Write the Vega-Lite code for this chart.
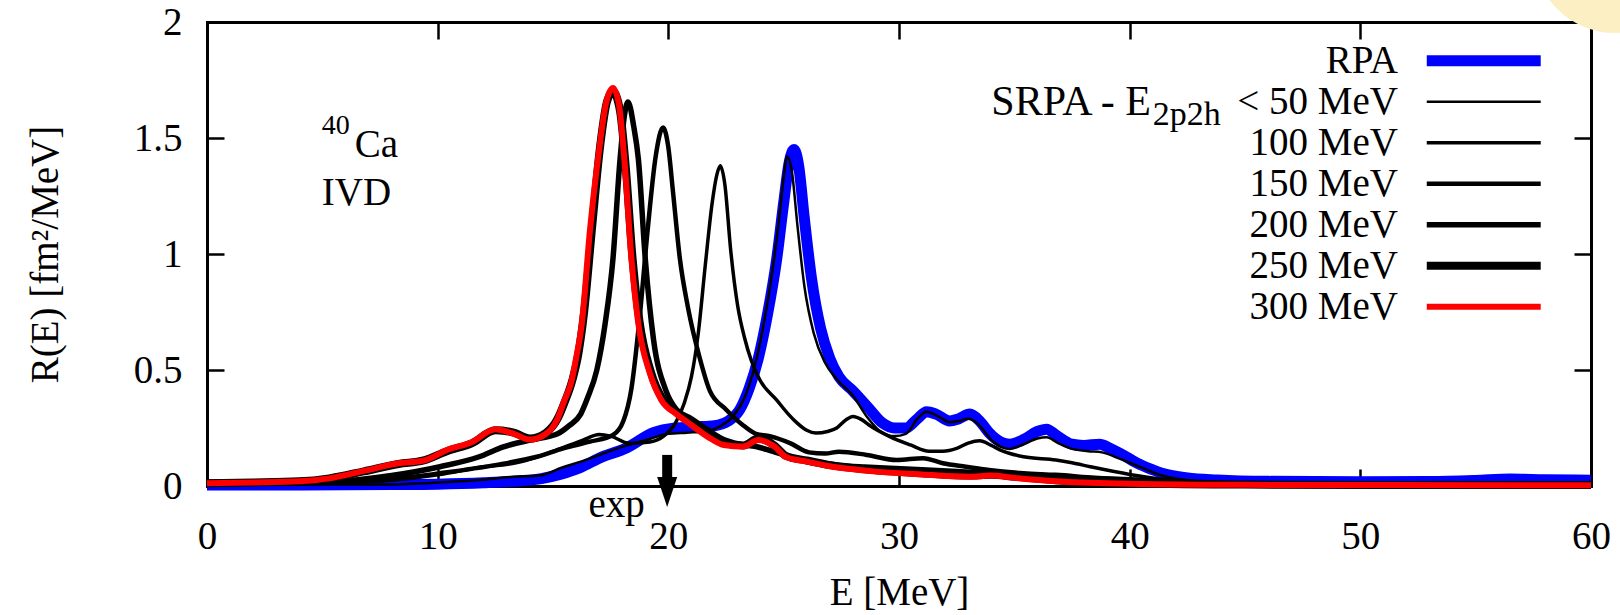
{
  "$schema": "https://vega.github.io/schema/vega-lite/v6.json",
  "width": 1384,
  "height": 464,
  "autosize": {"type": "none"},
  "padding": {"left": 207, "top": 22, "right": 29, "bottom": 129},
  "background": "white",
  "config": {
    "view": {"stroke": null},
    "font": "Liberation Serif",
    "text": {"font": "Liberation Serif", "color": "black"},
    "axis": {
      "domainColor": "black", "domainWidth": 3, "domainCap": "square",
      "tickColor": "black", "tickWidth": 2.5, "tickSize": -17,
      "labelFont": "Liberation Serif", "labelFontSize": 39, "labelColor": "black",
      "titleFont": "Liberation Serif", "titleFontSize": 39, "titleFontWeight": "normal", "titleColor": "black",
      "grid": false, "zindex": 1, "labelFlush": false, "labelOverlap": false, "labelBound": false
    }
  },
  "datasets": {
    "curves": [
      {"s":"RPA","E":0,"R":0.004},{"s":"RPA","E":3,"R":0.004},{"s":"RPA","E":6,"R":0.005},{"s":"RPA","E":8,"R":0.006},{"s":"RPA","E":10,"R":0.008},{"s":"RPA","E":12,"R":0.014},{"s":"RPA","E":13.5,"R":0.022},{"s":"RPA","E":14.5,"R":0.032},{"s":"RPA","E":15.3,"R":0.05},{"s":"RPA","E":16.2,"R":0.08},{"s":"RPA","E":17,"R":0.12},{"s":"RPA","E":18.2,"R":0.165},{"s":"RPA","E":19.35,"R":0.23},{"s":"RPA","E":20.3,"R":0.25},{"s":"RPA","E":21.2,"R":0.255},{"s":"RPA","E":22,"R":0.26},{"s":"RPA","E":22.6,"R":0.28},{"s":"RPA","E":23.1,"R":0.33},{"s":"RPA","E":23.5,"R":0.42},{"s":"RPA","E":23.9,"R":0.55},{"s":"RPA","E":24.3,"R":0.74},{"s":"RPA","E":24.7,"R":0.98},{"s":"RPA","E":25,"R":1.22},{"s":"RPA","E":25.25,"R":1.4},{"s":"RPA","E":25.45,"R":1.45},{"s":"RPA","E":25.65,"R":1.38},{"s":"RPA","E":25.9,"R":1.15},{"s":"RPA","E":26.2,"R":0.9},{"s":"RPA","E":26.6,"R":0.68},{"s":"RPA","E":27,"R":0.55},{"s":"RPA","E":27.4,"R":0.47},{"s":"RPA","E":28,"R":0.41},{"s":"RPA","E":28.65,"R":0.34},{"s":"RPA","E":29.3,"R":0.27},{"s":"RPA","E":29.8,"R":0.25},{"s":"RPA","E":30.3,"R":0.25},{"s":"RPA","E":30.8,"R":0.29},{"s":"RPA","E":31.2,"R":0.32},{"s":"RPA","E":31.6,"R":0.31},{"s":"RPA","E":32.2,"R":0.28},{"s":"RPA","E":32.6,"R":0.29},{"s":"RPA","E":33.07,"R":0.31},{"s":"RPA","E":33.5,"R":0.28},{"s":"RPA","E":33.9,"R":0.23},{"s":"RPA","E":34.4,"R":0.19},{"s":"RPA","E":34.8,"R":0.18},{"s":"RPA","E":35.4,"R":0.2},{"s":"RPA","E":36,"R":0.235},{"s":"RPA","E":36.4,"R":0.245},{"s":"RPA","E":36.8,"R":0.22},{"s":"RPA","E":37.5,"R":0.18},{"s":"RPA","E":38,"R":0.175},{"s":"RPA","E":38.7,"R":0.18},{"s":"RPA","E":39.1,"R":0.165},{"s":"RPA","E":39.6,"R":0.14},{"s":"RPA","E":40.3,"R":0.1},{"s":"RPA","E":41,"R":0.07},{"s":"RPA","E":41.4,"R":0.055},{"s":"RPA","E":42.5,"R":0.035},{"s":"RPA","E":43.8,"R":0.026},{"s":"RPA","E":46,"R":0.02},{"s":"RPA","E":50,"R":0.018},{"s":"RPA","E":53,"R":0.019},{"s":"RPA","E":55,"R":0.024},{"s":"RPA","E":56.5,"R":0.03},{"s":"RPA","E":58,"R":0.027},{"s":"RPA","E":60,"R":0.025},
      {"s":"E50","E":0,"R":0.006},{"s":"E50","E":4,"R":0.006},{"s":"E50","E":7,"R":0.006},{"s":"E50","E":8.9,"R":0.01},{"s":"E50","E":10.5,"R":0.018},{"s":"E50","E":11.8,"R":0.026},{"s":"E50","E":13.3,"R":0.04},{"s":"E50","E":14.4,"R":0.045},{"s":"E50","E":15.4,"R":0.08},{"s":"E50","E":16.2,"R":0.105},{"s":"E50","E":16.9,"R":0.13},{"s":"E50","E":18.2,"R":0.175},{"s":"E50","E":19.1,"R":0.2},{"s":"E50","E":20,"R":0.225},{"s":"E50","E":20.8,"R":0.23},{"s":"E50","E":21.6,"R":0.235},{"s":"E50","E":22.3,"R":0.26},{"s":"E50","E":22.8,"R":0.3},{"s":"E50","E":23.3,"R":0.38},{"s":"E50","E":23.7,"R":0.5},{"s":"E50","E":24.1,"R":0.68},{"s":"E50","E":24.5,"R":0.92},{"s":"E50","E":24.8,"R":1.15},{"s":"E50","E":25,"R":1.33},{"s":"E50","E":25.15,"R":1.42},{"s":"E50","E":25.35,"R":1.36},{"s":"E50","E":25.6,"R":1.12},{"s":"E50","E":25.9,"R":0.86},{"s":"E50","E":26.3,"R":0.66},{"s":"E50","E":26.8,"R":0.53},{"s":"E50","E":27.3,"R":0.46},{"s":"E50","E":28,"R":0.39},{"s":"E50","E":28.6,"R":0.3},{"s":"E50","E":29.2,"R":0.235},{"s":"E50","E":29.8,"R":0.215},{"s":"E50","E":30.3,"R":0.225},{"s":"E50","E":30.8,"R":0.29},{"s":"E50","E":31.2,"R":0.32},{"s":"E50","E":31.7,"R":0.3},{"s":"E50","E":32.2,"R":0.275},{"s":"E50","E":32.6,"R":0.28},{"s":"E50","E":33,"R":0.29},{"s":"E50","E":33.5,"R":0.26},{"s":"E50","E":33.9,"R":0.21},{"s":"E50","E":34.4,"R":0.17},{"s":"E50","E":34.8,"R":0.16},{"s":"E50","E":35.4,"R":0.18},{"s":"E50","E":36,"R":0.205},{"s":"E50","E":36.4,"R":0.21},{"s":"E50","E":36.9,"R":0.185},{"s":"E50","E":37.5,"R":0.16},{"s":"E50","E":38.2,"R":0.15},{"s":"E50","E":38.8,"R":0.145},{"s":"E50","E":39.5,"R":0.12},{"s":"E50","E":40.5,"R":0.08},{"s":"E50","E":41.4,"R":0.045},{"s":"E50","E":43,"R":0.02},{"s":"E50","E":45,"R":0.01},{"s":"E50","E":50,"R":0.005},{"s":"E50","E":60,"R":0.004},
      {"s":"E100","E":0,"R":0.008},{"s":"E100","E":4,"R":0.01},{"s":"E100","E":6,"R":0.014},{"s":"E100","E":8,"R":0.025},{"s":"E100","E":10.1,"R":0.05},{"s":"E100","E":11.8,"R":0.08},{"s":"E100","E":13.4,"R":0.1},{"s":"E100","E":14.3,"R":0.125},{"s":"E100","E":15.15,"R":0.155},{"s":"E100","E":16.3,"R":0.198},{"s":"E100","E":17,"R":0.222},{"s":"E100","E":17.5,"R":0.215},{"s":"E100","E":18.3,"R":0.184},{"s":"E100","E":19.2,"R":0.19},{"s":"E100","E":19.8,"R":0.215},{"s":"E100","E":20.3,"R":0.27},{"s":"E100","E":20.7,"R":0.36},{"s":"E100","E":21,"R":0.47},{"s":"E100","E":21.3,"R":0.66},{"s":"E100","E":21.6,"R":0.95},{"s":"E100","E":21.9,"R":1.22},{"s":"E100","E":22.1,"R":1.34},{"s":"E100","E":22.25,"R":1.38},{"s":"E100","E":22.45,"R":1.3},{"s":"E100","E":22.7,"R":1.02},{"s":"E100","E":23,"R":0.78},{"s":"E100","E":23.3,"R":0.64},{"s":"E100","E":23.6,"R":0.54},{"s":"E100","E":23.97,"R":0.457},{"s":"E100","E":24.7,"R":0.37},{"s":"E100","E":25.2,"R":0.31},{"s":"E100","E":25.6,"R":0.27},{"s":"E100","E":26,"R":0.24},{"s":"E100","E":26.4,"R":0.228},{"s":"E100","E":26.9,"R":0.235},{"s":"E100","E":27.3,"R":0.25},{"s":"E100","E":27.7,"R":0.285},{"s":"E100","E":28,"R":0.3},{"s":"E100","E":28.4,"R":0.285},{"s":"E100","E":28.7,"R":0.263},{"s":"E100","E":29.6,"R":0.213},{"s":"E100","E":30.5,"R":0.177},{"s":"E100","E":31.3,"R":0.15},{"s":"E100","E":31.9,"R":0.15},{"s":"E100","E":32.5,"R":0.162},{"s":"E100","E":33,"R":0.185},{"s":"E100","E":33.5,"R":0.195},{"s":"E100","E":34,"R":0.175},{"s":"E100","E":34.4,"R":0.155},{"s":"E100","E":35.4,"R":0.126},{"s":"E100","E":36.8,"R":0.112},{"s":"E100","E":37.5,"R":0.1},{"s":"E100","E":38.3,"R":0.083},{"s":"E100","E":40,"R":0.05},{"s":"E100","E":41.7,"R":0.026},{"s":"E100","E":44,"R":0.01},{"s":"E100","E":50,"R":0.004},{"s":"E100","E":60,"R":0.003},
      {"s":"E150","E":0,"R":0.008},{"s":"E150","E":4,"R":0.012},{"s":"E150","E":6,"R":0.018},{"s":"E150","E":8,"R":0.03},{"s":"E150","E":10.1,"R":0.055},{"s":"E150","E":12.56,"R":0.091},{"s":"E150","E":14.3,"R":0.126},{"s":"E150","E":15.45,"R":0.162},{"s":"E150","E":16.6,"R":0.191},{"s":"E150","E":17.6,"R":0.22},{"s":"E150","E":18.05,"R":0.28},{"s":"E150","E":18.4,"R":0.42},{"s":"E150","E":18.75,"R":0.72},{"s":"E150","E":19.1,"R":1.1},{"s":"E150","E":19.45,"R":1.42},{"s":"E150","E":19.77,"R":1.545},{"s":"E150","E":20,"R":1.46},{"s":"E150","E":20.2,"R":1.27},{"s":"E150","E":20.5,"R":0.98},{"s":"E150","E":20.85,"R":0.77},{"s":"E150","E":21.35,"R":0.556},{"s":"E150","E":21.8,"R":0.41},{"s":"E150","E":22.5,"R":0.33},{"s":"E150","E":23.2,"R":0.265},{"s":"E150","E":23.8,"R":0.225},{"s":"E150","E":24.4,"R":0.215},{"s":"E150","E":25.3,"R":0.184},{"s":"E150","E":26.1,"R":0.145},{"s":"E150","E":26.8,"R":0.14},{"s":"E150","E":27.4,"R":0.148},{"s":"E150","E":28.6,"R":0.134},{"s":"E150","E":29.9,"R":0.112},{"s":"E150","E":31.05,"R":0.12},{"s":"E150","E":31.9,"R":0.098},{"s":"E150","E":32.9,"R":0.083},{"s":"E150","E":33.9,"R":0.069},{"s":"E150","E":35.4,"R":0.055},{"s":"E150","E":36.8,"R":0.048},{"s":"E150","E":38.5,"R":0.035},{"s":"E150","E":41.7,"R":0.02},{"s":"E150","E":45,"R":0.008},{"s":"E150","E":50,"R":0.004},{"s":"E150","E":60,"R":0.003},
      {"s":"E200","E":0,"R":0.01},{"s":"E200","E":4,"R":0.015},{"s":"E200","E":6,"R":0.022},{"s":"E200","E":8,"R":0.045},{"s":"E200","E":10.1,"R":0.083},{"s":"E200","E":11.8,"R":0.126},{"s":"E200","E":12.85,"R":0.169},{"s":"E200","E":14,"R":0.198},{"s":"E200","E":15.2,"R":0.225},{"s":"E200","E":15.7,"R":0.26},{"s":"E200","E":16.2,"R":0.31},{"s":"E200","E":16.5,"R":0.38},{"s":"E200","E":16.9,"R":0.5},{"s":"E200","E":17.26,"R":0.7},{"s":"E200","E":17.6,"R":0.98},{"s":"E200","E":17.9,"R":1.4},{"s":"E200","E":18.1,"R":1.6},{"s":"E200","E":18.25,"R":1.655},{"s":"E200","E":18.5,"R":1.55},{"s":"E200","E":18.7,"R":1.41},{"s":"E200","E":19,"R":0.98},{"s":"E200","E":19.36,"R":0.63},{"s":"E200","E":19.9,"R":0.41},{"s":"E200","E":20.35,"R":0.33},{"s":"E200","E":21,"R":0.29},{"s":"E200","E":21.7,"R":0.243},{"s":"E200","E":22.4,"R":0.2},{"s":"E200","E":23.1,"R":0.18},{"s":"E200","E":23.8,"R":0.17},{"s":"E200","E":24.5,"R":0.15},{"s":"E200","E":25.3,"R":0.126},{"s":"E200","E":26.3,"R":0.105},{"s":"E200","E":27.4,"R":0.09},{"s":"E200","E":28.5,"R":0.082},{"s":"E200","E":29.6,"R":0.076},{"s":"E200","E":31,"R":0.07},{"s":"E200","E":32.5,"R":0.062},{"s":"E200","E":34,"R":0.055},{"s":"E200","E":35.4,"R":0.048},{"s":"E200","E":36.8,"R":0.04},{"s":"E200","E":38.3,"R":0.033},{"s":"E200","E":41.7,"R":0.02},{"s":"E200","E":45,"R":0.01},{"s":"E200","E":50,"R":0.005},{"s":"E200","E":60,"R":0.004},
      {"s":"E250","E":0,"R":0.012},{"s":"E250","E":2,"R":0.015},{"s":"E250","E":4,"R":0.02},{"s":"E250","E":5.3,"R":0.033},{"s":"E250","E":6.8,"R":0.063},{"s":"E250","E":8.3,"R":0.095},{"s":"E250","E":9.4,"R":0.11},{"s":"E250","E":10.4,"R":0.15},{"s":"E250","E":11.5,"R":0.185},{"s":"E250","E":12.5,"R":0.24},{"s":"E250","E":13.3,"R":0.23},{"s":"E250","E":14,"R":0.205},{"s":"E250","E":14.7,"R":0.23},{"s":"E250","E":15.2,"R":0.29},{"s":"E250","E":15.5,"R":0.36},{"s":"E250","E":15.85,"R":0.46},{"s":"E250","E":16.1,"R":0.57},{"s":"E250","E":16.35,"R":0.75},{"s":"E250","E":16.7,"R":1.12},{"s":"E250","E":17.05,"R":1.47},{"s":"E250","E":17.35,"R":1.66},{"s":"E250","E":17.6,"R":1.7},{"s":"E250","E":17.9,"R":1.62},{"s":"E250","E":18.15,"R":1.38},{"s":"E250","E":18.45,"R":0.98},{"s":"E250","E":18.75,"R":0.71},{"s":"E250","E":19.25,"R":0.49},{"s":"E250","E":19.75,"R":0.375},{"s":"E250","E":20.4,"R":0.315},{"s":"E250","E":20.9,"R":0.28},{"s":"E250","E":21.7,"R":0.22},{"s":"E250","E":22.4,"R":0.185},{"s":"E250","E":23.25,"R":0.175},{"s":"E250","E":23.9,"R":0.205},{"s":"E250","E":24.6,"R":0.175},{"s":"E250","E":25.1,"R":0.13},{"s":"E250","E":26,"R":0.11},{"s":"E250","E":27,"R":0.09},{"s":"E250","E":28.2,"R":0.075},{"s":"E250","E":29,"R":0.068},{"s":"E250","E":31,"R":0.055},{"s":"E250","E":33,"R":0.045},{"s":"E250","E":34,"R":0.048},{"s":"E250","E":35,"R":0.04},{"s":"E250","E":36.8,"R":0.025},{"s":"E250","E":40,"R":0.012},{"s":"E250","E":45,"R":0.006},{"s":"E250","E":60,"R":0.004},
      {"s":"E300","E":0,"R":0.012},{"s":"E300","E":2,"R":0.015},{"s":"E300","E":4,"R":0.02},{"s":"E300","E":5.3,"R":0.033},{"s":"E300","E":6.8,"R":0.065},{"s":"E300","E":8.3,"R":0.098},{"s":"E300","E":9.4,"R":0.11},{"s":"E300","E":10.4,"R":0.155},{"s":"E300","E":11.5,"R":0.19},{"s":"E300","E":12.5,"R":0.245},{"s":"E300","E":13.3,"R":0.225},{"s":"E300","E":14,"R":0.2},{"s":"E300","E":14.7,"R":0.225},{"s":"E300","E":15.2,"R":0.29},{"s":"E300","E":15.5,"R":0.37},{"s":"E300","E":15.8,"R":0.45},{"s":"E300","E":16,"R":0.55},{"s":"E300","E":16.25,"R":0.7},{"s":"E300","E":16.6,"R":1.1},{"s":"E300","E":17,"R":1.45},{"s":"E300","E":17.3,"R":1.65},{"s":"E300","E":17.6,"R":1.715},{"s":"E300","E":17.85,"R":1.65},{"s":"E300","E":18.1,"R":1.4},{"s":"E300","E":18.4,"R":0.98},{"s":"E300","E":18.7,"R":0.7},{"s":"E300","E":19.2,"R":0.485},{"s":"E300","E":19.7,"R":0.37},{"s":"E300","E":20.35,"R":0.31},{"s":"E300","E":20.9,"R":0.27},{"s":"E300","E":21.7,"R":0.213},{"s":"E300","E":22.4,"R":0.177},{"s":"E300","E":23.25,"R":0.17},{"s":"E300","E":23.9,"R":0.198},{"s":"E300","E":24.6,"R":0.17},{"s":"E300","E":25.1,"R":0.125},{"s":"E300","E":26,"R":0.105},{"s":"E300","E":27,"R":0.085},{"s":"E300","E":28.2,"R":0.07},{"s":"E300","E":29,"R":0.062},{"s":"E300","E":31,"R":0.05},{"s":"E300","E":33,"R":0.04},{"s":"E300","E":34,"R":0.045},{"s":"E300","E":35,"R":0.035},{"s":"E300","E":36.8,"R":0.02},{"s":"E300","E":40,"R":0.01},{"s":"E300","E":45,"R":0.005},{"s":"E300","E":60,"R":0.003}
    ],
    "legend": [
      {"s":"RPA","label":"RPA"},
      {"s":"E50","label":"< 50 MeV"},
      {"s":"E100","label":"100 MeV"},
      {"s":"E150","label":"150 MeV"},
      {"s":"E200","label":"200 MeV"},
      {"s":"E250","label":"250 MeV"},
      {"s":"E300","label":"300 MeV"}
    ]
  },
  "layer": [
    {
      "layer": [
        {
          "data": {"values": [{}]},
          "mark": {"type": "point", "shape": "circle", "size": 26244, "filled": true, "color": "#fcefc4", "opacity": 1},
          "encoding": {
            "x": {"datum": 61.03, "type": "quantitative", "axis": null},
            "y": {"datum": 2.302, "type": "quantitative", "axis": null}
          }
        },
        {
          "data": {"name": "curves"},
          "mark": {"type": "line", "interpolate": "monotone", "strokeJoin": "round"},
          "encoding": {
            "x": {"field": "E", "type": "quantitative", "scale": {"domain": [0, 60], "nice": false},
              "axis": {"orient": "bottom", "values": [0, 10, 20, 30, 40, 50, 60], "title": "E [MeV]", "titlePadding": 17, "labelPadding": 48}},
            "y": {"field": "R", "type": "quantitative", "scale": {"domain": [0, 2], "nice": false},
              "axis": {"orient": "left", "values": [0, 0.5, 1, 1.5, 2], "format": "~g", "title": "R(E) [fm²/MeV]", "titlePadding": 68, "labelPadding": 42}},
            "color": {"field": "s", "type": "nominal",
              "scale": {"domain": ["RPA", "E50", "E100", "E150", "E200", "E250", "E300"],
                "range": ["#0000ff", "#000000", "#000000", "#000000", "#000000", "#000000", "#ff0000"]}, "legend": null},
            "strokeWidth": {
              "condition": [
                {"test": "datum.s === 'RPA'", "value": 11},
                {"test": "datum.s === 'E50'", "value": 2.5},
                {"test": "datum.s === 'E100'", "value": 3.5},
                {"test": "datum.s === 'E150'", "value": 4.5},
                {"test": "datum.s === 'E200'", "value": 5.5},
                {"test": "datum.s === 'E250'", "value": 8}
              ],
              "value": 6
            }
          }
        },
        {
          "data": {"values": [{}]},
          "mark": {"type": "rule", "strokeWidth": 10, "color": "black", "strokeCap": "butt"},
          "encoding": {
            "x": {"datum": 19.95, "type": "quantitative",
              "axis": {"orient": "top", "values": [0, 10, 20, 30, 40, 50, 60], "labels": false, "title": null}},
            "y": {"datum": 0.134, "type": "quantitative",
              "axis": {"orient": "right", "values": [0, 0.5, 1, 1.5, 2], "labels": false, "title": null}},
            "y2": {"datum": 0.034}
          }
        },
        {
          "data": {"values": [{}]},
          "mark": {"type": "point", "shape": "M-0.667,-1L0.667,-1L0,1Z", "size": 900, "filled": true, "color": "black", "opacity": 1},
          "encoding": {
            "x": {"datum": 19.95, "type": "quantitative", "axis": null},
            "y": {"datum": -0.026, "type": "quantitative", "axis": null}
          }
        },
        {
          "data": {"values": [{}]},
          "mark": {"type": "text", "align": "right", "baseline": "alphabetic", "fontSize": 39},
          "encoding": {
            "x": {"datum": 18.98, "type": "quantitative", "axis": null},
            "y": {"datum": -0.132, "type": "quantitative", "axis": null},
            "text": {"value": "exp"}
          }
        },
        {
          "data": {"values": [{}]},
          "mark": {"type": "text", "align": "left", "baseline": "alphabetic", "fontSize": 28},
          "encoding": {
            "x": {"datum": 4.98, "type": "quantitative", "axis": null},
            "y": {"datum": 1.517, "type": "quantitative", "axis": null},
            "text": {"value": "40"}
          }
        },
        {
          "data": {"values": [{}]},
          "mark": {"type": "text", "align": "left", "baseline": "alphabetic", "fontSize": 39},
          "encoding": {
            "x": {"datum": 6.4, "type": "quantitative", "axis": null},
            "y": {"datum": 1.418, "type": "quantitative", "axis": null},
            "text": {"value": "Ca"}
          }
        },
        {
          "data": {"values": [{}]},
          "mark": {"type": "text", "align": "left", "baseline": "alphabetic", "fontSize": 39},
          "encoding": {
            "x": {"datum": 4.98, "type": "quantitative", "axis": null},
            "y": {"datum": 1.211, "type": "quantitative", "axis": null},
            "text": {"value": "IVD"}
          }
        }
      ],
      "resolve": {"axis": {"x": "independent", "y": "independent"}}
    },
    {
      "data": {"name": "legend"},
      "encoding": {
        "y": {"field": "s", "type": "nominal",
          "scale": {"type": "point", "domain": ["RPA", "E50", "E100", "E150", "E200", "E250", "E300"], "range": [38.7, 284.7], "padding": 0},
          "axis": null}
      },
      "layer": [
        {
          "mark": {"type": "rule", "strokeCap": "butt"},
          "encoding": {
            "x": {"datum": 52.88, "type": "quantitative", "axis": null},
            "x2": {"datum": 57.82},
            "color": {"field": "s", "type": "nominal", "legend": null},
            "strokeWidth": {
              "condition": [
                {"test": "datum.s === 'RPA'", "value": 11},
                {"test": "datum.s === 'E50'", "value": 2.5},
                {"test": "datum.s === 'E100'", "value": 3.5},
                {"test": "datum.s === 'E150'", "value": 4.5},
                {"test": "datum.s === 'E200'", "value": 5.5},
                {"test": "datum.s === 'E250'", "value": 8}
              ],
              "value": 6
            }
          }
        },
        {
          "mark": {"type": "text", "align": "right", "baseline": "middle", "fontSize": 39},
          "encoding": {
            "x": {"datum": 51.63, "type": "quantitative", "axis": null},
            "text": {"field": "label"}
          }
        },
        {
          "transform": [{"filter": "datum.s === 'E50'"}],
          "mark": {"type": "text", "align": "right", "baseline": "middle", "fontSize": 42},
          "encoding": {
            "x": {"datum": 40.92, "type": "quantitative", "axis": null},
            "text": {"value": "SRPA - E"}
          }
        },
        {
          "transform": [{"filter": "datum.s === 'E50'"}],
          "mark": {"type": "text", "align": "left", "baseline": "middle", "fontSize": 34, "dy": 13},
          "encoding": {
            "x": {"datum": 41.0, "type": "quantitative", "axis": null},
            "text": {"value": "2p2h"}
          }
        }
      ]
    }
  ],
  "resolve": {"scale": {"y": "independent"}}
}
